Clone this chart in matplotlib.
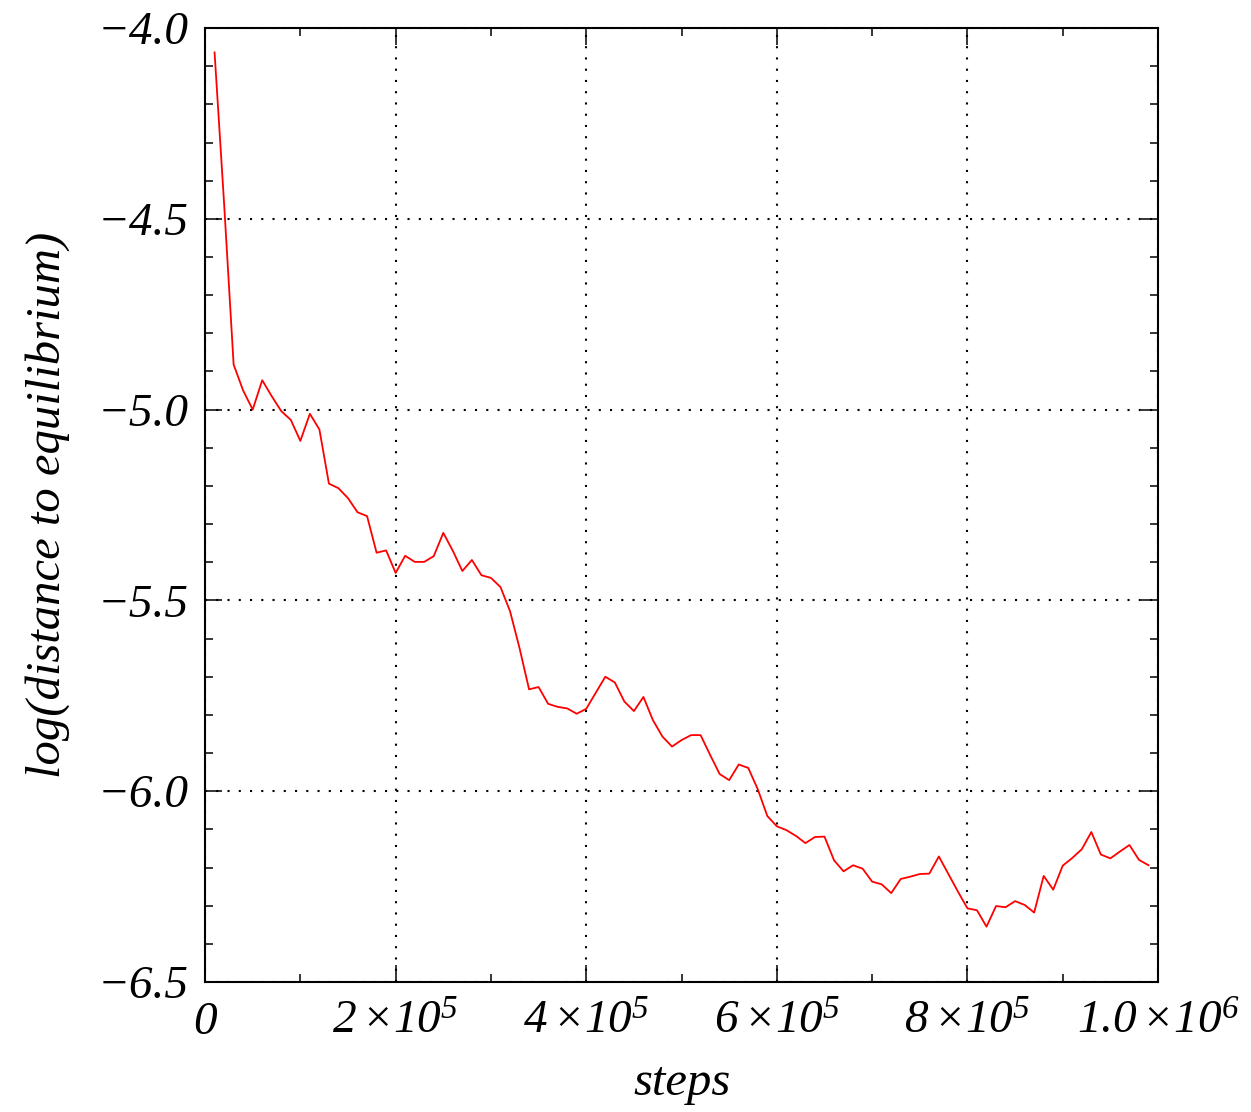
import numpy as np
import matplotlib
matplotlib.use('Agg')
import matplotlib.pyplot as plt
from matplotlib.ticker import MultipleLocator, FixedLocator

plt.rcParams['font.family'] = ['Liberation Serif', 'DejaVu Serif']
plt.rcParams['font.style'] = 'italic'
plt.rcParams['mathtext.fontset'] = 'custom'
plt.rcParams['mathtext.rm'] = 'Liberation Serif:italic'
plt.rcParams['mathtext.it'] = 'Liberation Serif:italic'

# pasos de simulacion (cada 1e4) y log de la distancia al equilibrio
steps = np.arange(1, 100) * 1e4
log_dist = [
    -4.064, -4.46, -4.882, -4.95, -5.0, -4.923, -4.965, -5.004, -5.027, -5.082,
    -5.011, -5.052, -5.194, -5.206, -5.232, -5.269, -5.279, -5.375, -5.369, -5.428,
    -5.383, -5.399, -5.399, -5.384, -5.323, -5.37, -5.423, -5.394, -5.434, -5.441,
    -5.465, -5.528, -5.625, -5.733, -5.727, -5.771, -5.779, -5.783, -5.797, -5.784,
    -5.742, -5.700, -5.715, -5.765, -5.790, -5.753, -5.814, -5.857, -5.883, -5.866,
    -5.853, -5.853, -5.905, -5.955, -5.971, -5.930, -5.939, -5.995, -6.065, -6.092,
    -6.102, -6.117, -6.136, -6.120, -6.119, -6.181, -6.210, -6.194, -6.203, -6.237,
    -6.244, -6.267, -6.230, -6.224, -6.217, -6.216, -6.171, -6.217, -6.263, -6.307,
    -6.312, -6.355, -6.301, -6.304, -6.288, -6.298, -6.318, -6.222, -6.258, -6.195,
    -6.175, -6.152, -6.107, -6.166, -6.176, -6.158, -6.141, -6.180, -6.194,
]

x_ticks = [0, 2e5, 4e5, 6e5, 8e5, 1e6]
x_labels = ['0', r'$2\,{\times}10^{5}$', r'$4\,{\times}10^{5}$', r'$6\,{\times}10^{5}$',
            r'$8\,{\times}10^{5}$', r'$1.0\,{\times}10^{6}$']
y_ticks = [-6.5, -6.0, -5.5, -5.0, -4.5, -4.0]
y_labels = ['\u22126.5', '\u22126.0', '\u22125.5', '\u22125.0', '\u22124.5', '\u22124.0']

fig = plt.figure(figsize=(12.51, 11.12), dpi=100)
ax = fig.add_axes([0.1639, 0.1169, 0.7618, 0.8579])

ax.plot(steps, log_dist, color='red', linewidth=1.3)

ax.set_xlim(0, 1e6)
ax.set_ylim(-6.5, -4.0)

ax.xaxis.set_major_locator(FixedLocator(x_ticks))
ax.xaxis.set_minor_locator(MultipleLocator(1e5))
ax.set_xticklabels(x_labels)
ax.yaxis.set_major_locator(FixedLocator(y_ticks))
ax.yaxis.set_minor_locator(MultipleLocator(0.1))
ax.set_yticklabels(y_labels)

ax.tick_params(which='both', direction='in', top=True, right=True, color='black')
ax.tick_params(which='major', length=12, width=1.1, labelsize=34, pad=12)
ax.tick_params(which='minor', length=6, width=1.1)
ax.tick_params(axis='x', which='major', pad=14)

for s in ax.spines.values():
    s.set_linewidth(1.5)

# rejilla punteada solo en las marcas principales
ax.grid(True, which='major', color='black', linestyle=(0, (1, 4.4)), linewidth=1.5)

ax.set_xlabel('steps', fontsize=35, labelpad=12)
ax.set_ylabel('log(distance to equilibrium)', fontsize=35, labelpad=20)

fig.savefig('out.png', dpi=100)
